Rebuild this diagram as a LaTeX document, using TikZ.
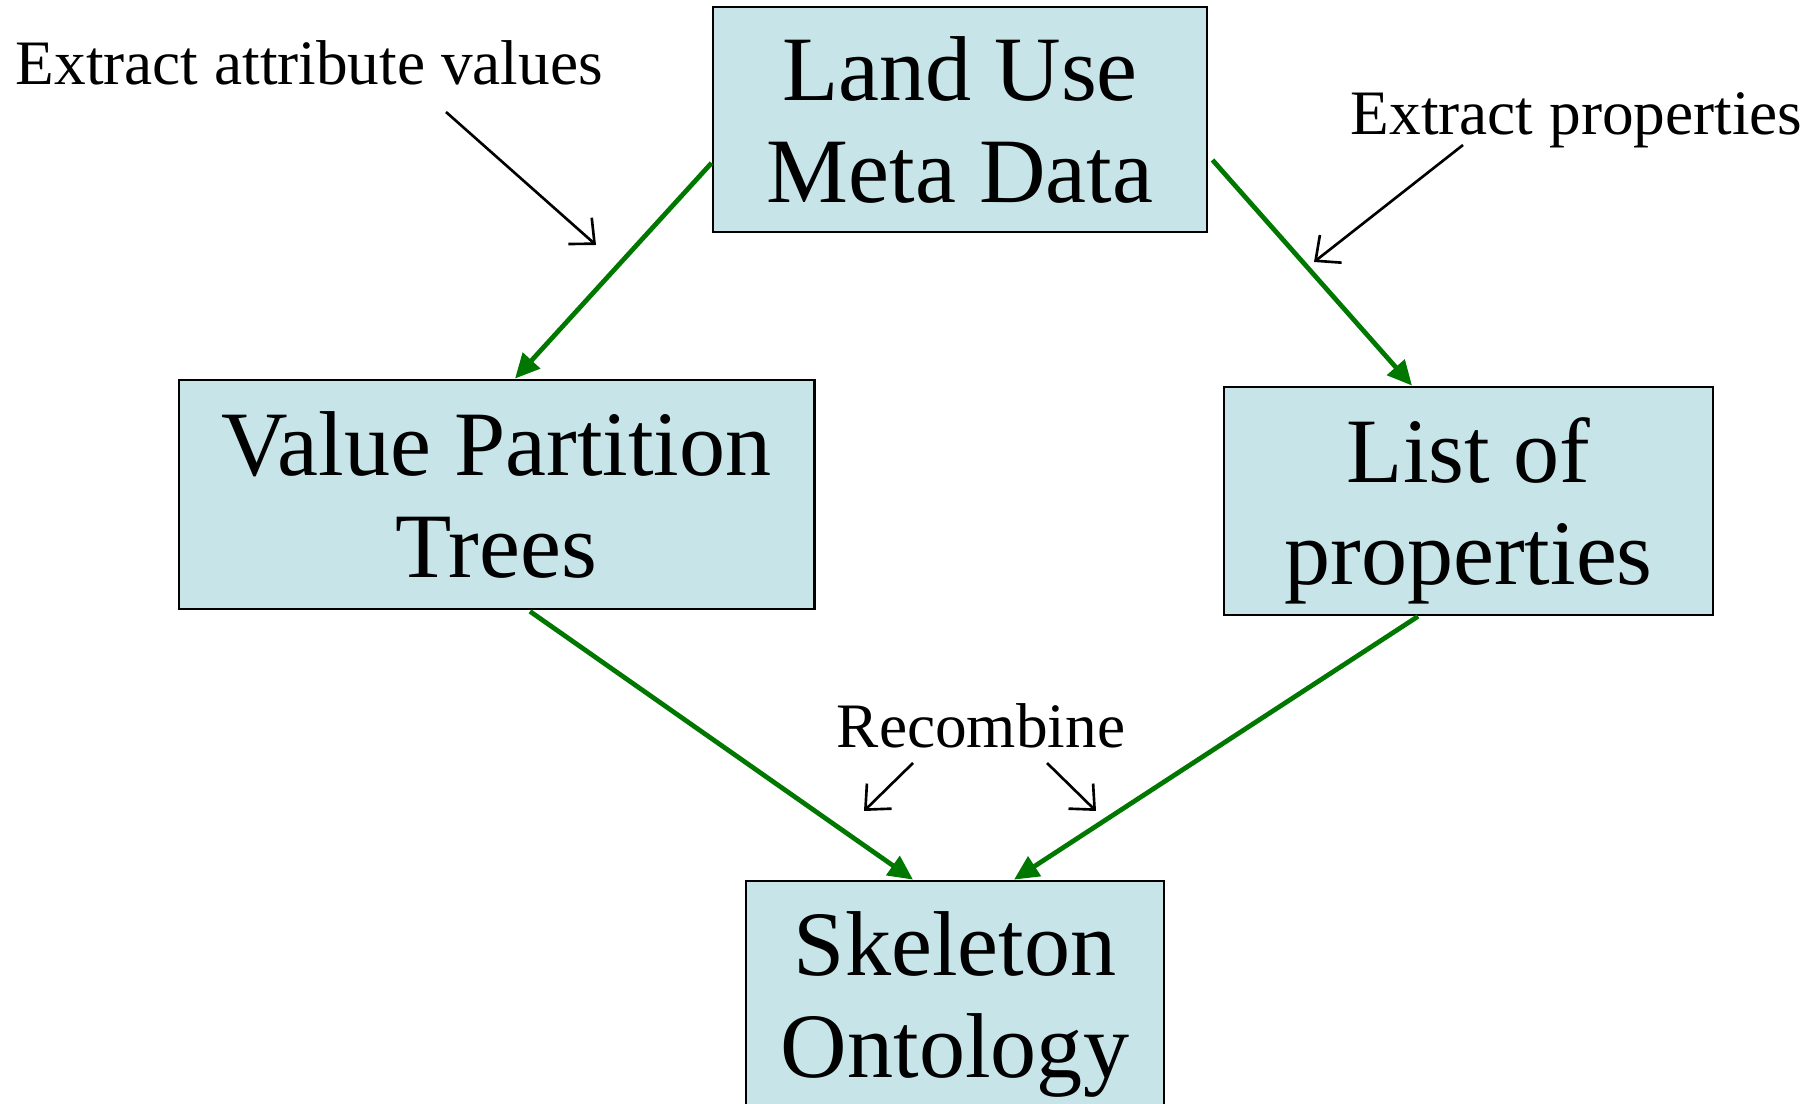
\documentclass[tikz,border=0pt]{standalone}
\usepackage{fontspec}
\setmainfont{Liberation Serif}
\usetikzlibrary{arrows.meta,calc}

\definecolor{boxfill}{RGB}{199,229,233}
\definecolor{flowgreen}{RGB}{0,120,0}

\tikzset{
  stage/.style={draw=black, line width=0.75pt, fill=boxfill, inner sep=0pt,
    align=center, text depth=0pt,
    font=\fontsize{26.2}{29}\selectfont},
  flow/.style={draw=flowgreen, line width=1.35pt,
    -{Triangle[length=7pt,width=6.5pt]}},
  note/.style={font=\fontsize{18}{21}\selectfont, inner sep=0pt},
  pointer/.style={draw=black, line width=0.75pt,
    -{Straight Barb[length=5.5pt,width=10pt]}}
}

\begin{document}
\begin{tikzpicture}[x=0.01cm, y=-0.01cm]
  \useasboundingbox (0,0) rectangle (1816,1104);
  \clip (0,0) rectangle (1816,1104);

  % process stages
  \node[stage, minimum width=4.94cm, minimum height=2.25cm]
    (meta) at (960,119.5) {Land Use\\Meta Data};
  \node[stage, minimum width=6.35cm, minimum height=2.29cm]
    (vpt) at (496.5,494.5) {Value Partition\\Trees};
  \node[stage, minimum width=4.89cm, minimum height=2.28cm]
    (props) at (1468.5,501) {List of\\properties};
  \node[stage, minimum width=4.18cm, minimum height=2.27cm]
    (onto) at (955,994.5) {Skeleton\\Ontology};

  % flow between stages
  \draw[flow] ($(meta.west)+(0,43.5)$) -- ($(vpt.north)+(18.5,0)$);
  \draw[flow] ($(meta.east)+(4,40.5)$) -- ($(props.north)+(-56.5,0)$);
  \draw[flow] ($(vpt.south)+(33.5,1)$) -- ($(onto.north)+(-42,0)$);
  \draw[flow] ($(props.south)+(-50.5,0)$) -- ($(onto.north)+(59,0)$);

  % annotations
  \node[note, anchor=base west] (nattr) at (15,85) {Extract attribute values};
  \node[note, anchor=base west] (nprop) at (1350,135) {Extract properties};
  \node[note, anchor=base] (nrec) at (981,748) {Recombine};

  \coordinate (a1) at (446,112);  \coordinate (a2) at (596,245);
  \coordinate (p1) at (1463,145); \coordinate (p2) at (1314,262);
  \coordinate (r1) at (913,763);  \coordinate (r2) at (864,811);
  \coordinate (r3) at (1047,763); \coordinate (r4) at (1096,811);

  \draw[pointer] (a1) -- (a2);
  \draw[pointer] (p1) -- (p2);
  \draw[pointer] (r1) -- (r2);
  \draw[pointer] (r3) -- (r4);
\end{tikzpicture}
\end{document}
